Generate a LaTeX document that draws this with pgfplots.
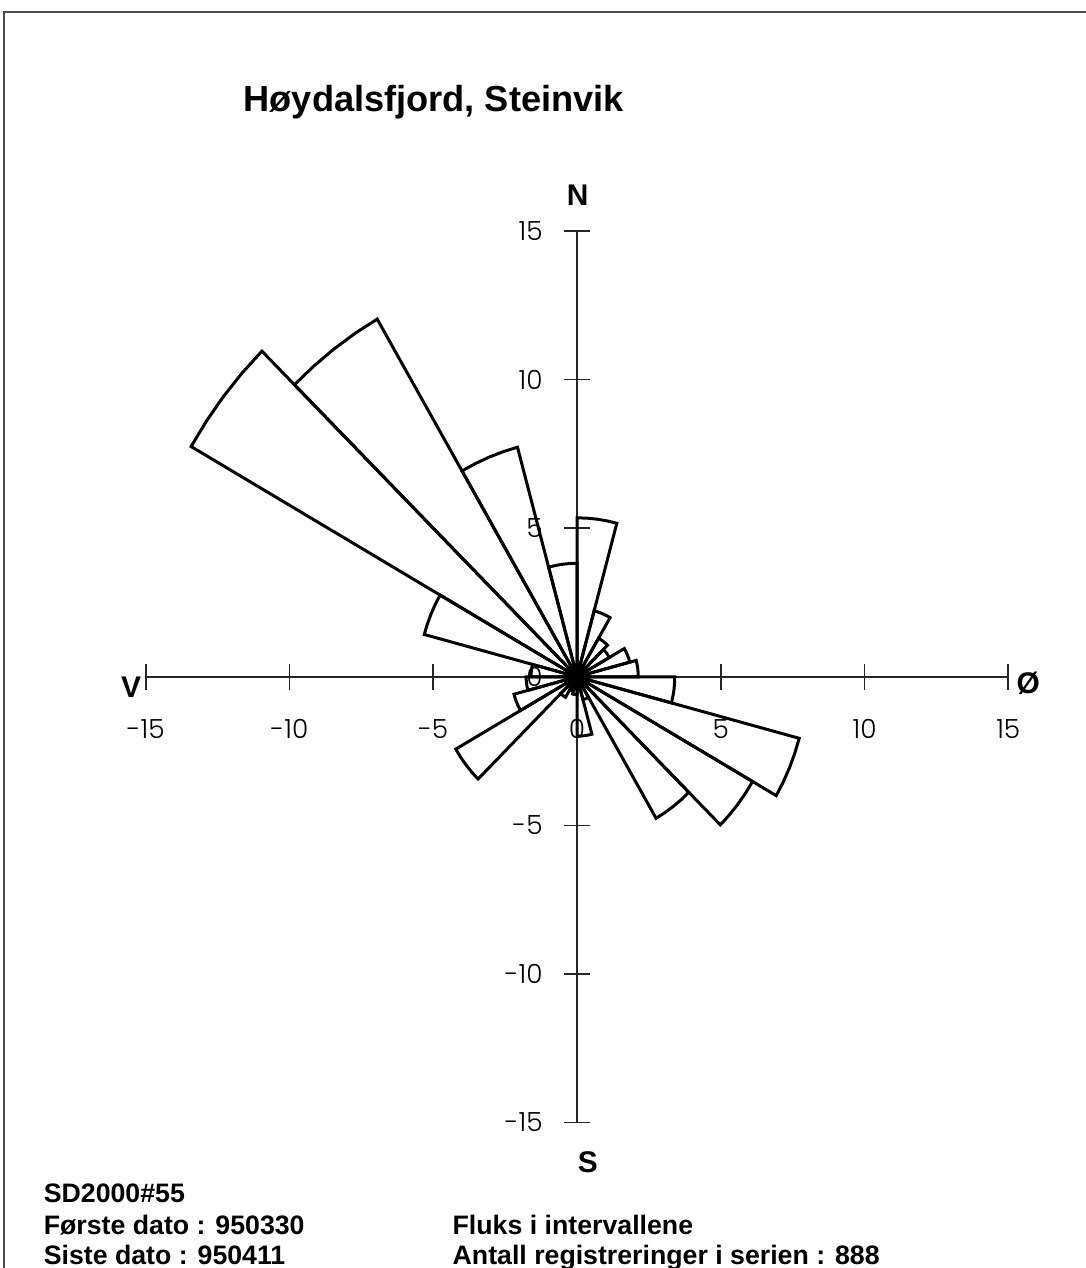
\documentclass[border=0pt]{standalone}
\usepackage{fontspec}
\setmainfont{Liberation Sans}
\IfFontExistsTF{Poppins Light}{\newfontfamily\tickfont{Poppins Light}}{\newfontfamily\tickfont{Poppins}}
\usepackage{pgfplots}
\pgfplotsset{compat=1.18}
\tikzset{lbl/.style={anchor=base west, inner sep=0pt, font=\fontsize{7.6}{9}\selectfont\bfseries}}

\begin{document}
\begin{tikzpicture}
\begin{axis}[
  x=0.2875cm, y=0.2971cm,
  xmin=-15, xmax=15, ymin=-15, ymax=15,
  axis lines=middle,
  axis line style={-, line width=0.45pt, black!85},
  hide obscured x ticks=false, hide obscured y ticks=false,
  xtick={-15,-10,-5,0,5,10,15},
  ytick={-15,-10,-5,0,5,10,15},
  xticklabels={-15,-10,-5,0,5,10,15},
  yticklabels={-15,-10,-5,0,5,10,15},
  tick align=center,
  major tick length=0.26cm,
  tick style={line width=0.45pt, black!85},
  xticklabel style={font=\tickfont\fontsize{7.5}{9}\selectfont, anchor=north, yshift=-0.17cm},
  yticklabel style={font=\tickfont\fontsize{7.5}{9}\selectfont, anchor=east, xshift=-0.09cm},
  clip=false,
  sect/.style={black, line width=0.85pt, line join=miter, data cs=polar},
]
% page extent and scanned frame (top and left edges)
\coordinate (bbsw) at (axis cs:-20.07,-19.90);
\coordinate (bbne) at (axis cs:17.70,22.78);
\draw[black!70, line width=0.4pt] (axis cs:-19.93,-19.90) -- (axis cs:-19.93,22.37) -- (axis cs:17.70,22.37);

% one sector per 15 degree bin: (math angle, flux); bearing b -> angle 90-b
\addplot[sect] coordinates {(0,0) (90,5.35) (86.25,5.35) (82.5,5.35) (78.75,5.35) (75,5.35) (0,0)};        % 0-15
\addplot[sect] coordinates {(0,0) (75,2.3) (71.25,2.3) (67.5,2.3) (63.75,2.3) (60,2.3) (0,0)};              % 15-30
\addplot[sect] coordinates {(0,0) (60,1.5) (56.25,1.5) (52.5,1.5) (48.75,1.5) (45,1.5) (0,0)};              % 30-45
\addplot[sect] coordinates {(0,0) (45,1.3) (41.25,1.3) (37.5,1.3) (33.75,1.3) (30,1.3) (0,0)};              % 45-60
\addplot[sect] coordinates {(0,0) (30,1.9) (26.25,1.9) (22.5,1.9) (18.75,1.9) (15,1.9) (0,0)};              % 60-75
\addplot[sect] coordinates {(0,0) (15,2.13) (11.25,2.13) (7.5,2.13) (3.75,2.13) (0,2.13) (0,0)};            % 75-90
\addplot[sect] coordinates {(0,0) (0,3.4) (-3.75,3.4) (-7.5,3.4) (-11.25,3.4) (-15,3.4) (0,0)};             % 90-105
\addplot[sect] coordinates {(0,0) (-15,8.0) (-18.75,8.0) (-22.5,8.0) (-26.25,8.0) (-30,8.0) (0,0)};         % 105-120
\addplot[sect] coordinates {(0,0) (-30,7.05) (-33.75,7.05) (-37.5,7.05) (-41.25,7.05) (-45,7.05) (0,0)};    % 120-135
\addplot[sect] coordinates {(0,0) (-45,5.5) (-48.75,5.5) (-52.5,5.5) (-56.25,5.5) (-60,5.5) (0,0)};         % 135-150
\addplot[sect] coordinates {(0,0) (-60,0.8) (-63.75,0.8) (-67.5,0.8) (-71.25,0.8) (-75,0.8) (0,0)};         % 150-165
\addplot[sect] coordinates {(0,0) (-75,2.0) (-78.75,2.0) (-82.5,2.0) (-86.25,2.0) (-90,2.0) (0,0)};         % 165-180
\addplot[sect] coordinates {(0,0) (-90,0.6) (-93.75,0.6) (-97.5,0.6) (-101.25,0.6) (-105,0.6) (0,0)};       % 180-195
\addplot[sect] coordinates {(0,0) (-105,0.5) (-108.75,0.5) (-112.5,0.5) (-116.25,0.5) (-120,0.5) (0,0)};    % 195-210
\addplot[sect] coordinates {(0,0) (-120,0.8) (-123.75,0.8) (-127.5,0.8) (-131.25,0.8) (-135,0.8) (0,0)};    % 210-225
\addplot[sect] coordinates {(0,0) (-135,4.87) (-138.75,4.87) (-142.5,4.87) (-146.25,4.87) (-150,4.87) (0,0)}; % 225-240
\addplot[sect] coordinates {(0,0) (-150,2.27) (-153.75,2.27) (-157.5,2.27) (-161.25,2.27) (-165,2.27) (0,0)}; % 240-255
\addplot[sect] coordinates {(0,0) (-165,1.77) (-168.75,1.77) (-172.5,1.77) (-176.25,1.77) (-180,1.77) (0,0)}; % 255-270
\addplot[sect] coordinates {(0,0) (180,1.6) (176.25,1.6) (172.5,1.6) (168.75,1.6) (165,1.6) (0,0)};         % 270-285
\addplot[sect] coordinates {(0,0) (165,5.5) (161.25,5.5) (157.5,5.5) (153.75,5.5) (150,5.5) (0,0)};         % 285-300
\addplot[sect] coordinates {(0,0) (150,15.5) (146.25,15.5) (142.5,15.5) (138.75,15.5) (135,15.5) (0,0)};    % 300-315
\addplot[sect] coordinates {(0,0) (135,13.9) (131.25,13.9) (127.5,13.9) (123.75,13.9) (120,13.9) (0,0)};    % 315-330
\addplot[sect] coordinates {(0,0) (120,8.0) (116.25,8.0) (112.5,8.0) (108.75,8.0) (105,8.0) (0,0)};         % 330-345
\addplot[sect] coordinates {(0,0) (105,3.82) (101.25,3.82) (97.5,3.82) (93.75,3.82) (90,3.82) (0,0)};       % 345-360

% hub
\addplot[only marks, mark=*, mark size=3.1pt, black] coordinates {(0,0)};

% compass letters
\node[font=\fontsize{8.5}{10}\selectfont\bfseries] at (axis cs:0.02,16.21) {N};
\node[font=\fontsize{8.5}{10}\selectfont\bfseries] at (axis cs:0.38,-16.33) {S};
\node[font=\fontsize{8.5}{10}\selectfont\bfseries] at (axis cs:-15.51,-0.35) {V};
\node[font=\fontsize{8.5}{10}\selectfont\bfseries] at (axis cs:15.69,-0.23) {Ø};

% title and notes
\node[anchor=base west, inner sep=0pt, font=\fontsize{10.3}{12}\selectfont\bfseries] at (axis cs:-11.62,19.04) {Høydalsfjord, Steinvik};
\node[lbl] at (axis cs:-18.57,-17.71) {SD2000\#55};
\node[lbl] at (axis cs:-18.57,-18.76) {Første dato : 950330};
\node[lbl] at (axis cs:-18.57,-19.78) {Siste dato : 950411};
\node[lbl] at (axis cs:-4.35,-18.76) {Fluks i intervallene};
\node[lbl] at (axis cs:-4.35,-19.78) {Antall registreringer i serien : 888};
\end{axis}
\pgfresetboundingbox
\path (bbsw) rectangle (bbne);
\end{tikzpicture}
\end{document}
